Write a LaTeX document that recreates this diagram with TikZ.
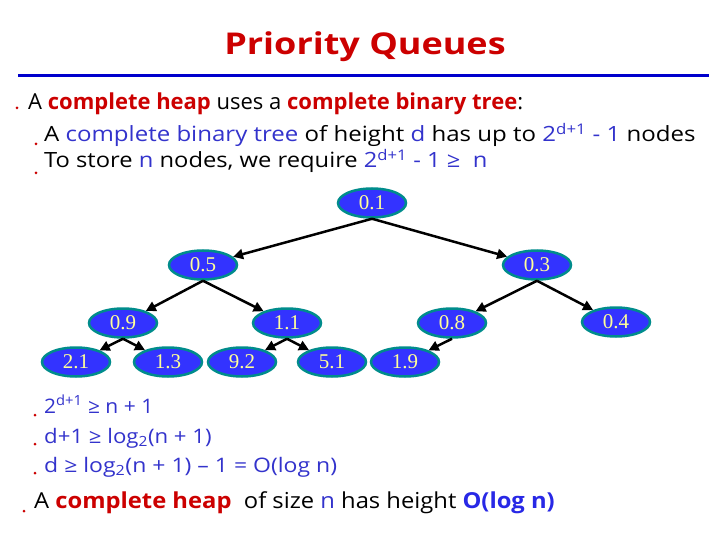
\documentclass[tikz,border=0pt]{standalone}
\usepackage{fontspec}
\setmainfont{Open Sans}
\newfontfamily\timesf{Liberation Serif}
\usetikzlibrary{shapes.geometric,arrows.meta}
\definecolor{tred}{RGB}{204,0,0}
\definecolor{tblue}{RGB}{51,51,204}
\definecolor{bblue}{RGB}{40,40,230}
\definecolor{lineblue}{RGB}{0,0,204}
\definecolor{nodefill}{RGB}{51,51,255}
\definecolor{nodeborder}{RGB}{0,140,140}
\definecolor{nodetext}{RGB}{255,255,153}
\tikzset{
  hnode/.style={ellipse, draw=nodeborder, line width=2.5pt, fill=nodefill,
    text=nodetext, minimum width=68pt, minimum height=29pt, inner sep=0pt,
    font=\timesf\fontsize{21}{22}\selectfont},
  edge/.style={line width=2.5pt, -{Triangle[length=10pt,width=10pt]}},
  txt/.style={anchor=base west, inner sep=0pt},
  bul/.style={circle, fill=tred, inner sep=0pt, minimum size=3pt}
}
\newcommand{\hred}[1]{{\bfseries\color{tred}#1}}
\newcommand{\hblu}[1]{{\color{tblue}#1}}
\begin{document}
\begin{tikzpicture}[x=1pt,y=1pt]
\useasboundingbox[fill=white] (0,0) rectangle (720,-540);
% title
\node[anchor=base, inner sep=0pt, text=tred, font=\bfseries\fontsize{30}{34}\selectfont] (title) at (365,-55) {\scalebox{1.2}[1]{Priority Queues}};
\draw[lineblue, line width=3pt] (18,-76) coordinate (l1) -- (709,-76) coordinate (l2);
% bullets
\node[bul] (b1) at (17,-108) {};
\node[bul] (b2) at (36,-144) {};
\node[bul] (b3) at (36,-173) {};
\node[bul] (b4) at (35,-415) {};
\node[bul] (b5) at (35,-444) {};
\node[bul] (b6) at (35,-473) {};
\node[bul] (b7) at (24,-511) {};
% text lines
\node[txt, font=\fontsize{22}{26}\selectfont] (t1) at (28,-110)
  {A \hred{complete heap} uses a \hred{complete binary tree}:};
\node[txt, font=\fontsize{21}{25}\selectfont] (t2) at (44,-142)
  {\scalebox{1.145}[1]{A \hblu{complete binary tree} of height \hblu{d} has up to \hblu{2\textsuperscript{d+1} - 1} nodes}};
\node[txt, font=\fontsize{21}{25}\selectfont] (t3) at (44,-168)
  {\scalebox{1.13}[1]{To store \hblu{n} nodes, we require \hblu{2\textsuperscript{d+1} - 1 ≥ \ n}}};
\node[txt, text=tblue, font=\fontsize{20}{24}\selectfont] (t4) at (44,-413)
  {\scalebox{1.05}[1]{2\textsuperscript{d+1} ≥ n + 1}};
\node[txt, text=tblue, font=\fontsize{20}{24}\selectfont] (t5) at (44,-443)
  {\scalebox{1.11}[1]{d+1 ≥ log\textsubscript{2}(n + 1)}};
\node[txt, text=tblue, font=\fontsize{20}{24}\selectfont] (t6) at (44,-472)
  {\scalebox{1.15}[1]{d ≥ log\textsubscript{2}(n + 1) – 1 = O(log n)}};
\node[txt, font=\fontsize{22}{26}\selectfont] (t7) at (34,-508)
  {\scalebox{1.08}[1]{A \hred{complete heap} \ of size \hblu{n} has height {\bfseries\color{bblue}O(log n)}}};
% tree nodes
\node[hnode] (n01) at (372,-203) {0.1};
\node[hnode] (n05) at (203,-265) {0.5};
\node[hnode] (n03) at (537,-265) {0.3};
\node[hnode] (n09) at (123,-323) {0.9};
\node[hnode] (n11) at (287,-323) {1.1};
\node[hnode] (n08) at (452,-323) {0.8};
\node[hnode] (n04) at (616,-322) {0.4};
\node[hnode] (n21) at (76,-362) {2.1};
\node[hnode] (n13) at (168,-362) {1.3};
\node[hnode] (n92) at (242,-362) {9.2};
\node[hnode] (n51) at (332,-362) {5.1};
\node[hnode] (n19) at (405,-362) {1.9};
% edges
\draw[edge] (n01.south) -- (n05);
\draw[edge] (n01.south) -- (n03);
\draw[edge] (n05.south) -- (n09);
\draw[edge] (n05.south) -- (n11);
\draw[edge] (n03.south) -- (n08);
\draw[edge] (n03.south) -- (n04);
\draw[edge] (n09.south) -- (n21);
\draw[edge] (n09.south) -- (n13);
\draw[edge] (n11.south) -- (n92);
\draw[edge] (n11.south) -- (n51);
\draw[edge] (n08.south) -- (n19);
\end{tikzpicture}
\end{document}
